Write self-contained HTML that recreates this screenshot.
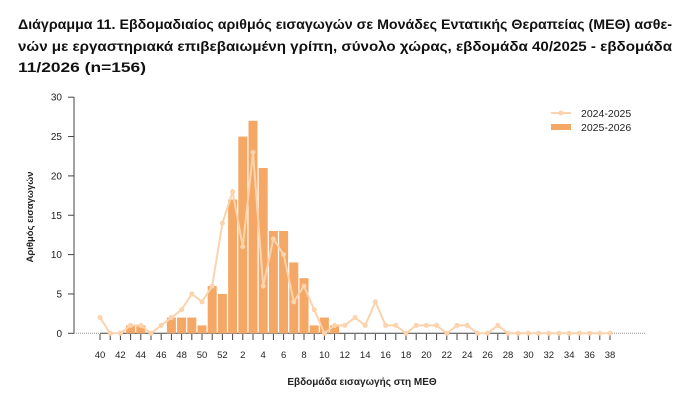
<!DOCTYPE html>
<html><head><meta charset="utf-8"><style>
html,body{margin:0;padding:0;background:#fff;width:700px;height:406px;overflow:hidden}
svg{display:block}
</style></head><body>
<svg id="s" width="700" height="406" xmlns="http://www.w3.org/2000/svg" font-family="Liberation Sans, DejaVu Sans, sans-serif">
<g font-weight="bold" font-size="13.5" fill="#111">
<text x="18" y="29" textLength="654" lengthAdjust="spacingAndGlyphs">Διάγραμμα 11. Εβδομαδιαίος αριθμός εισαγωγών σε Μονάδες Εντατικής Θεραπείας (ΜΕΘ) ασθε-</text>
<text x="18" y="51" textLength="654" lengthAdjust="spacingAndGlyphs">νών με εργαστηριακά επιβεβαιωμένη γρίπη, σύνολο χώρας, εβδομάδα 40/2025 - εβδομάδα</text>
<text x="18" y="72" textLength="128" lengthAdjust="spacingAndGlyphs">11/2026 (n=156)</text>
</g>
<text transform="translate(33,217) rotate(-90)" text-anchor="middle" font-size="9.5" font-weight="bold" fill="#222">Αριθμός εισαγωγών</text>
<text x="362" y="385" text-anchor="middle" font-size="10" font-weight="bold" fill="#222">Εβδομάδα εισαγωγής στη ΜΕΘ</text>
<g id="g"></g>
<g font-size="10.5" fill="#222">
<line x1="551" y1="113" x2="571" y2="113" stroke="#fbd3ad" stroke-width="2"/>
<circle cx="561" cy="113" r="2.5" fill="#fbd3ad"/>
<text x="581" y="117">2024-2025</text>
<rect x="551" y="124" width="20" height="6" fill="#f5a765"/>
<text x="581" y="131">2025-2026</text>
</g>
</svg>
<script>
var g=document.getElementById('g');var h='';
var X=function(i){return 100+i*10.2};var Y=function(v){return 333.3-v*7.87};
var bars=[0,0,0,1,1,0,0,2,2,2,1,6,5,17,25,27,21,13,13,9,7,1,2,1];
var line=[2,0,0,1,1,0,1,2,3,5,4,6,14,18,11,23,6,12,10,4,6,3,0,1,1,2,1,4,1,1,0,1,1,1,0,1,1,0,0,1,0,0,0,0,0,0,0,0,0,0,0];
// y axis
h+='<line x1="74" y1="97" x2="74" y2="333.3" stroke="#444" stroke-width="1"/>';
for(var v=0;v<=30;v+=5){var y=Y(v);h+='<line x1="68" y1="'+y+'" x2="74" y2="'+y+'" stroke="#444"/>';h+='<text x="62" y="'+(y+3.5)+'" text-anchor="end" font-size="10" fill="#222">'+v+'</text>';}
// baseline
h+='<line x1="74" y1="333.3" x2="100" y2="333.3" stroke="#999" stroke-dasharray="1,1"/>';
h+='<line x1="100" y1="333.3" x2="510" y2="333.3" stroke="#444"/>';
h+='<line x1="510" y1="333.3" x2="645" y2="333.3" stroke="#999" stroke-dasharray="1,1"/>';
// bars
for(var i=0;i<bars.length;i++){if(bars[i]>0){var x=X(i)-4.5;h+='<rect x="'+x+'" y="'+Y(bars[i])+'" width="9" height="'+(bars[i]*7.87)+'" fill="#f5a765"/>';}}
// ticks
for(var i=0;i<=50;i++){var x=X(i);h+='<line x1="'+x+'" y1="334" x2="'+x+'" y2="340" stroke="#444"/>';var wk=i<13?40+i:i-12;if(wk%2==0)h+='<text x="'+x+'" y="358" text-anchor="middle" font-size="9.5" fill="#222">'+wk+'</text>';}
// line
var p='';for(var i=0;i<line.length;i++){p+=(i?'L':'M')+X(i)+','+Y(line[i]);}
h+='<path d="'+p+'" fill="none" stroke="#fbd3ad" stroke-width="2" stroke-linejoin="round"/>';
for(var i=0;i<line.length;i++){h+='<circle cx="'+X(i)+'" cy="'+Y(line[i])+'" r="2.5" fill="#fbd3ad"/>';}
g.innerHTML=h;
</script>
</body></html>
